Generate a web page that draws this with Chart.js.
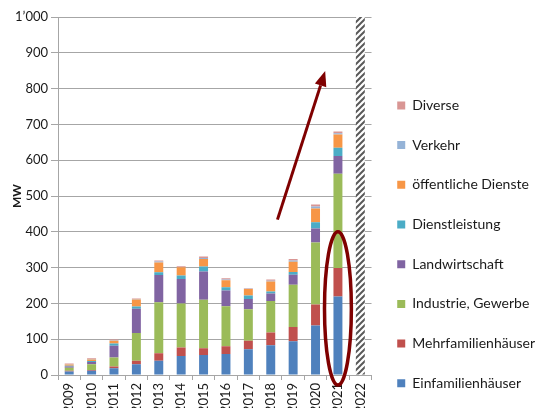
<!DOCTYPE html>
<html>
<head>
<meta charset="utf-8">
<script src="https://cdn.jsdelivr.net/npm/chart.js@4/dist/chart.umd.min.js"></script>
<style>
  html, body { margin: 0; padding: 0; background: #fff; overflow: hidden; }
  #wrap { width: 545px; height: 416px; }
</style>
</head>
<body>
<div id="wrap"><canvas id="myChart"></canvas></div>
<script>
let years = ['2009', '2010', '2011', '2012', '2013', '2014', '2015', '2016', '2017', '2018', '2019', '2020', '2021', '2022'];

// MW je Kategorie
let einfamilien   = [10, 12, 19, 30, 40, 53, 56, 59, 72, 83, 94, 138, 219, null];
let mehrfamilien  = [2, 2, 5, 10, 21, 24, 19, 21, 24, 36, 40, 59, 80, null];
let industrie     = [8, 16, 25, 77, 142, 123, 135, 112, 88, 88, 118, 173, 263, null];
let landwirtschaft = [4, 6, 33, 68, 76, 68, 79, 44, 28, 21, 28, 39, 50, null];
let dienstleistung = [2, 3, 6, 6, 8, 10, 14, 9, 10, 5, 8, 18, 23, null];
let oeffentlich   = [3, 4, 8, 20, 27, 23, 21, 20, 18, 28, 28, 38, 37, null];
let verkehr       = [1, 2, 1, 1, 3, 1, 3, 2, 1, 2, 4, 6, 3, null];
let diverse       = [2, 2, 2, 2, 3, 2, 4, 3, 1, 4, 4, 5, 5, null];
let offen2022     = [null, null, null, null, null, null, null, null, null, null, null, null, null, 1000];

let yTicks = [0, 100, 200, 300, 400, 500, 600, 700, 800, 900, 1000];

let colorHex = ['#4F81BD', '#C0504D', '#9BBB59', '#8064A2', '#4BACC6', '#F79646', '#95B3D7', '#D99694'];

function hatch() {
    let c = document.createElement('canvas');
    c.width = 6; c.height = 6;
    let g = c.getContext('2d');
    g.fillStyle = '#fff';
    g.fillRect(0, 0, 6, 6);
    g.strokeStyle = '#595959';
    g.lineWidth = 2;
    g.beginPath();
    g.moveTo(0, 6); g.lineTo(6, 0);
    g.moveTo(-3, 3); g.lineTo(3, -3);
    g.moveTo(3, 9); g.lineTo(9, 3);
    g.stroke();
    return g.createPattern(c, 'repeat');
}

// Pfeil und Ellipse (Anmerkungen)
let annotations = {
    id: 'annotations',
    afterDraw(chart) {
        let x = chart.scales.x, y = chart.scales.y, c = chart.ctx;
        let red = '#7F0000';
        let step = x.getPixelForValue(1) - x.getPixelForValue(0);
        c.save();
        c.strokeStyle = red;
        c.fillStyle = red;
        c.lineWidth = 3.5;
        // Ellipse um 2021
        let cx = x.getPixelForValue(12);
        let top = y.getPixelForValue(400), bot = y.getPixelForValue(-28);
        c.beginPath();
        c.ellipse(cx, (top + bot) / 2, step * 0.6, (bot - top) / 2, 0, 0, Math.PI * 2);
        c.stroke();
        // Pfeil
        let x0 = x.getPixelForValue(0) + step * 9.3, y0 = y.getPixelForValue(434);
        let x1 = x.getPixelForValue(0) + step * 11.43, y1 = y.getPixelForValue(849);
        let a = Math.atan2(y1 - y0, x1 - x0);
        let hl = 15, hw = 6;
        let bx = x1 - hl * Math.cos(a), by = y1 - hl * Math.sin(a);
        c.lineWidth = 3;
        c.beginPath();
        c.moveTo(x0, y0);
        c.lineTo(bx, by);
        c.stroke();
        c.beginPath();
        c.moveTo(x1, y1);
        c.lineTo(bx + hw * Math.sin(a), by - hw * Math.cos(a));
        c.lineTo(bx - hw * Math.sin(a), by + hw * Math.cos(a));
        c.closePath();
        c.fill();
        c.restore();
    }
};

Chart.defaults.font.family = 'Lato, "Open Sans", sans-serif';
Chart.defaults.font.size = 13;
Chart.defaults.color = '#1a1a1a';

let ctx = document.getElementById('myChart').getContext('2d');

let myChart = new Chart(ctx, {
    type: 'bar',
    data: {
        labels: years,
        datasets: [
            { label: 'Einfamilienhäuser', data: einfamilien, backgroundColor: colorHex[0] },
            { label: 'Mehrfamilienhäuser', data: mehrfamilien, backgroundColor: colorHex[1] },
            { label: 'Industrie, Gewerbe', data: industrie, backgroundColor: colorHex[2] },
            { label: 'Landwirtschaft', data: landwirtschaft, backgroundColor: colorHex[3] },
            { label: 'Dienstleistung', data: dienstleistung, backgroundColor: colorHex[4] },
            { label: 'öffentliche Dienste', data: oeffentlich, backgroundColor: colorHex[5] },
            { label: 'Verkehr', data: verkehr, backgroundColor: colorHex[6] },
            { label: 'Diverse', data: diverse, backgroundColor: colorHex[7] },
            { label: '2022', data: offen2022, backgroundColor: hatch() }
        ]
    },
    options: {
        responsive: true,
        maintainAspectRatio: false,
        animation: false,
        datasets: { bar: { barPercentage: 0.4, categoryPercentage: 1 } },
        layout: { padding: { top: 17, left: 0, right: 0, bottom: 0 } },
        plugins: {
            tooltip: { enabled: false },
            legend: {
                position: 'right',
                align: 'end',
                reverse: true,
                maxWidth: 200,
                labels: {
                    boxWidth: 8,
                    boxHeight: 8,
                    padding: 25.7,
                    font: { size: 14 },
                    filter: (item) => item.datasetIndex < 8
                }
            }
        },
        scales: {
            x: {
                stacked: true,
                afterFit: (s) => { s.height = 41; },
                grid: { drawOnChartArea: false, tickLength: 5, color: '#A6A6A6' },
                border: { color: '#A6A6A6' },
                ticks: { maxRotation: 90, minRotation: 90, padding: 3, autoSkip: false }
            },
            y: {
                stacked: true,
                min: 0,
                max: 1000,
                afterFit: (s) => { s.width = 58; },
                afterBuildTicks: (s) => { s.ticks = yTicks.map(v => ({ value: v })); },
                grid: { color: '#A6A6A6', tickLength: 7 },
                border: { color: '#A6A6A6' },
                ticks: {
                    padding: 3,
                    callback: (v) => v >= 1000 ? '1’000' : String(v)
                },
                title: {
                    display: true,
                    text: 'MW',
                    font: { size: 12, weight: 'bold' },
                    padding: { top: 10, bottom: 0 }
                }
            }
        }
    },
    plugins: [annotations]
});
</script>
</body>
</html>
